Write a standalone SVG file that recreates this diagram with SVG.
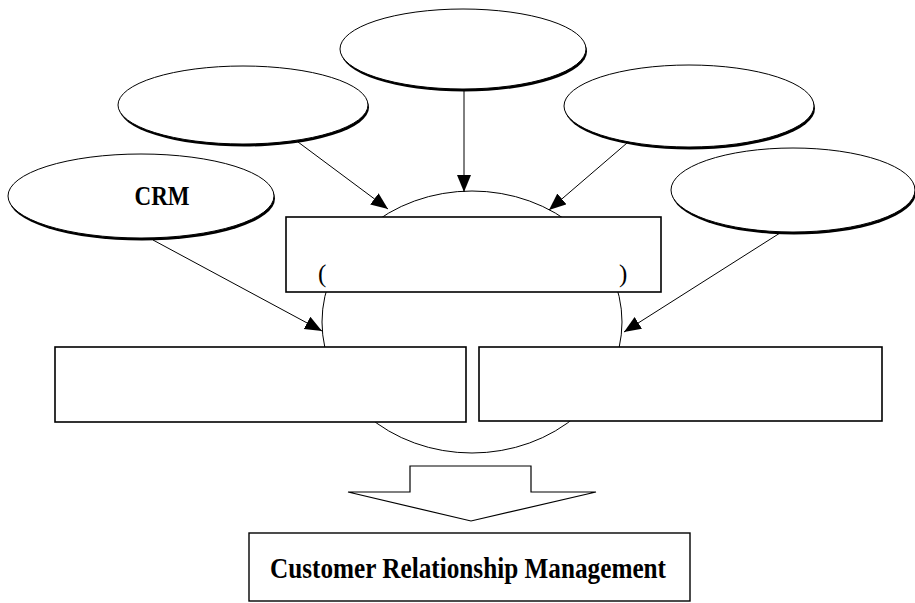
<svg xmlns="http://www.w3.org/2000/svg" width="915" height="603" viewBox="0 0 915 603">
<style>
.sh{fill:#000;stroke:none}
.el{fill:#fff;stroke:#000;stroke-width:1}
.box{fill:#fff;stroke:#000;stroke-width:1.6}
.con{stroke:#000;stroke-width:1;fill:none;marker-end:url(#ah)}
.t{font-family:"Liberation Serif","Times New Roman",serif;font-weight:bold;fill:#000}
.p{font-family:"Liberation Serif","Times New Roman",serif;fill:#000}
</style>
<defs>
<marker id="ah" markerUnits="userSpaceOnUse" markerWidth="20" markerHeight="16" refX="17" refY="7" orient="auto">
<path d="M0,0 L17,7 L0,14 Z" fill="#000"/>
</marker>
</defs>
<rect width="915" height="603" fill="#fff"/>
<g id="hub">
<ellipse cx="472" cy="322" rx="150" ry="131" fill="#fff" stroke="#000" stroke-width="1"/>
</g>
<g id="core-box">
<rect class="box" x="286" y="217" width="375" height="75"/>
<text class="p" x="318" y="282" font-size="25">(</text>
<text class="p" x="619" y="282" font-size="25">)</text>
</g>
<g id="left-box">
<rect class="box" x="55" y="347" width="411" height="75"/>
</g>
<g id="right-box">
<rect class="box" x="479" y="347" width="403" height="74"/>
</g>
<g id="e-crm">
<ellipse class="sh" cx="142" cy="198.5" rx="133" ry="42"/>
<ellipse class="el" cx="141" cy="196" rx="133" ry="42"/>
<text class="t" x="162" y="205" font-size="27" text-anchor="middle" textLength="55" lengthAdjust="spacingAndGlyphs">CRM</text>
</g>
<g id="e-upper-left">
<ellipse class="sh" cx="244" cy="107.5" rx="125" ry="39"/>
<ellipse class="el" cx="243" cy="105" rx="125" ry="39"/>
</g>
<g id="e-top">
<ellipse class="sh" cx="464" cy="51.5" rx="123" ry="40"/>
<ellipse class="el" cx="463" cy="49" rx="123" ry="40"/>
</g>
<g id="e-upper-right">
<ellipse class="sh" cx="690" cy="108.5" rx="125" ry="41"/>
<ellipse class="el" cx="689" cy="106" rx="125" ry="41"/>
</g>
<g id="e-right">
<ellipse class="sh" cx="794" cy="192.5" rx="122" ry="42"/>
<ellipse class="el" cx="793" cy="190" rx="122" ry="42"/>
</g>
<g id="connectors">
<line class="con" x1="153" y1="240" x2="322" y2="331"/>
<line class="con" x1="298" y1="142" x2="388" y2="209"/>
<line class="con" x1="464" y1="90" x2="464" y2="192"/>
<line class="con" x1="627" y1="143" x2="549" y2="210"/>
<line class="con" x1="780" y1="233" x2="624" y2="332"/>
</g>
<g id="down-arrow">
<polygon points="410,466 531,466 531,492 596,492 471,521 348,492 410,492" fill="#fff" stroke="#000" stroke-width="1.2"/>
</g>
<g id="crm-box">
<rect x="249" y="533" width="441" height="68" fill="#fff" stroke="#000" stroke-width="1.4"/>
<text class="t" x="468" y="578" font-size="29" text-anchor="middle" textLength="396" lengthAdjust="spacingAndGlyphs">Customer Relationship Management</text>
</g>
</svg>
